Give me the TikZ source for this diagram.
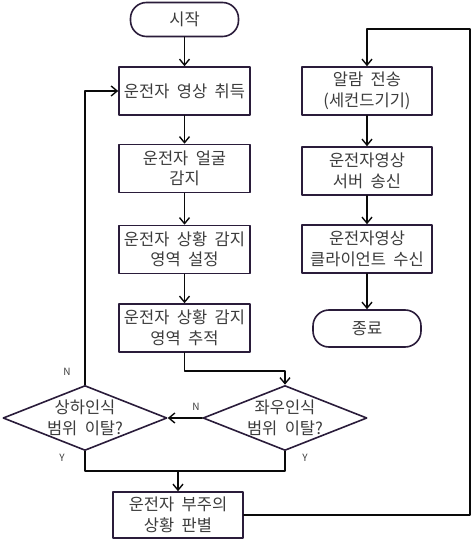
\documentclass[tikz,border=0pt]{standalone}
\usepackage{fontspec}
\setmainfont{Noto Sans CJK KR}[WordSpace=2]
\usetikzlibrary{arrows.meta,shapes.geometric}
\definecolor{bdbdbd}{RGB}{42,28,58}
\definecolor{txtxtx}{RGB}{60,60,60}
\definecolor{lnlnln}{RGB}{10,10,10}

\begin{document}
\begin{tikzpicture}[line cap=round,line join=round,>={Straight Barb[length=6pt,width=10pt,line width=1.4pt]},x=1pt,y=-1pt,
	stepbox/.style={draw=bdbdbd,line width=1.6pt,rectangle,minimum width=130pt,minimum height=48pt,inner sep=0pt,align=center,text=txtxtx,font=\fontsize{16.5}{20.5}\selectfont},
	termbox/.style={draw=bdbdbd,line width=1.6pt,rectangle,rounded corners=16pt,minimum width=108pt,minimum height=34pt,text=txtxtx,font=\fontsize{16.5}{20.5}\selectfont},
	askbox/.style={draw=bdbdbd,line width=1.6pt,diamond,aspect=2.5,minimum width=164pt,minimum height=65pt,inner sep=-8pt,align=center,text=txtxtx,font=\fontsize{16.5}{20.5}\selectfont},
	yn/.style={text=txtxtx,font=\fontsize{10}{11}\selectfont},
	flow/.style={draw=lnlnln,line width=1.6pt}]
	\useasboundingbox (0,0) rectangle (472,545);
	% left column
	\node[termbox] (start) at (184.5,19.5) {시작};
	\node[stepbox,minimum width=131pt] (acq) at (184.5,91) {운전자 영상 취득};
	\node[stepbox,minimum width=131pt] (face) at (184.5,168.5) {운전자 얼굴\\감지};
	\node[stepbox,minimum width=131pt] (area) at (184.5,249.5) {운전자 상황 감지\\영역 설정};
	\node[stepbox,minimum width=131pt] (track) at (184.5,328) {운전자 상황 감지\\영역 추적};
	\node[askbox] (lr) at (285,418) {좌우인식\\범위 이탈?};
	\node[askbox] (ud) at (85,418) {상하인식\\범위 이탈?};
	\node[stepbox,minimum height=46pt] (judge) at (178,515) {운전자 부주의\\상황 판별};
	% right column
	\node[stepbox] (alarm) at (367,91) {알람 전송\\(세컨드기기)};
	\node[stepbox] (server) at (367,171) {운전자영상\\서버 송신};
	\node[stepbox] (client) at (367,249) {운전자영상\\클라이언트 수신};
	\node[termbox,minimum height=37pt] (stop) at (367,328.5) {종료};
	% labels
	\node[yn] (n1) at (67,372) {N};
	\node[yn] (n2) at (196,407) {N};
	\node[yn] (y1) at (62,458) {Y};
	\node[yn] (y2) at (305,458) {Y};
	% turning points
	\coordinate (m) at (178,471);
	\coordinate (r1) at (470,29);
	% connectors
	\draw[flow,->] (start) -- (acq);
	\draw[flow,->] (acq) -- (face);
	\draw[flow,->] (face) -- (area);
	\draw[flow,->] (area) -- (track);
	\draw[flow,->] (track.south) -- ++(0,18) -| (lr.north);
	\draw[flow,->] (lr.west) -- (ud.east);
	\draw[flow,->] (ud.north) |- (acq.west);
	\draw[flow] (ud.south) |- (m) -| (lr.south);
	\draw[flow,->] (m) -- (judge.north);
	\draw[flow,->] (judge.east) -| (r1) -| (alarm.north);
	\draw[flow,->] (alarm) -- (server);
	\draw[flow,->] (server) -- (client);
	\draw[flow,->] (client) -- (stop);
\end{tikzpicture}
\end{document}
